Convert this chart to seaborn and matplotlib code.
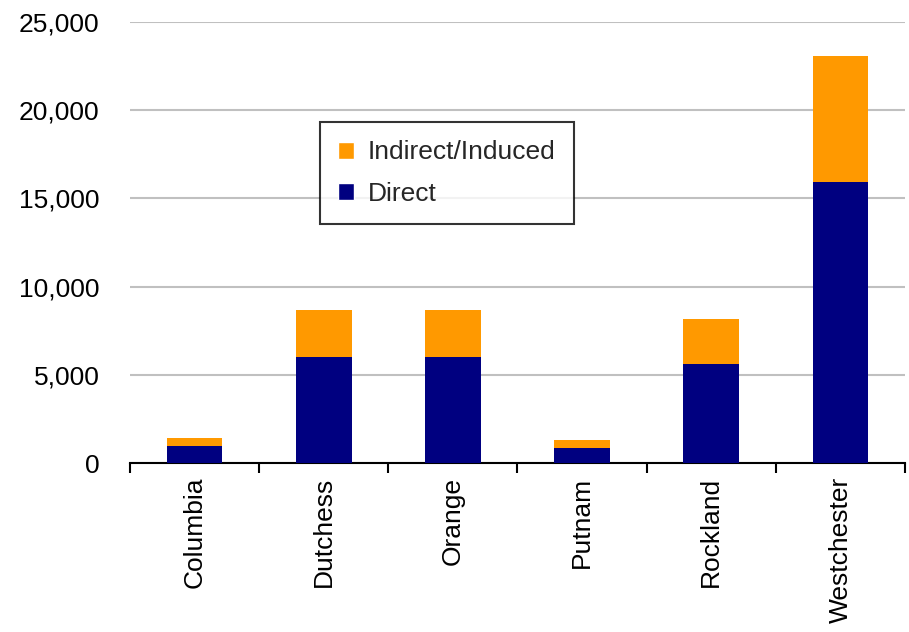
import matplotlib.pyplot as plt
import pandas as pd
import seaborn as sns
from matplotlib.patches import Patch
from matplotlib.ticker import FuncFormatter, FixedLocator

# Data
counties = ["Columbia", "Dutchess", "Orange", "Putnam", "Rockland", "Westchester"]
direct = [960, 6000, 6000, 850, 5600, 15950]
indirect_induced = [460, 2670, 2670, 450, 2550, 7120]

DIRECT_COLOR = "#000080"
INDIRECT_COLOR = "#FF9900"

sns.set_theme(style="white")
plt.rcParams["font.family"] = ["Liberation Sans", "DejaVu Sans"]

df = pd.DataFrame(
    {"county": counties, "direct": direct, "indirect": indirect_induced}
)
df["total"] = df["direct"] + df["indirect"]

fig = plt.figure(figsize=(9.09, 6.32), dpi=100)
ax = fig.add_axes([0.143, 0.2674, 0.8526, 0.6976])

# Stacked bars: total first (orange), then direct (navy) over it
sns.barplot(data=df, x="county", y="total", color=INDIRECT_COLOR,
            saturation=1, width=0.43, linewidth=0, ax=ax, zorder=3)
sns.barplot(data=df, x="county", y="direct", color=DIRECT_COLOR,
            saturation=1, width=0.43, linewidth=0, ax=ax, zorder=3)

ax.set_xlim(-0.5, len(counties) - 0.5)
ax.set_ylim(0, 25000)
ax.set_yticks(range(0, 25001, 5000))
ax.yaxis.set_major_formatter(FuncFormatter(lambda v, p: f"{int(v):,}"))
ax.grid(axis="y", color="#c0c0c0", linewidth=1.5, zorder=0)
ax.set_xlabel("")
ax.set_ylabel("")

for side in ["top", "right", "left"]:
    ax.spines[side].set_visible(False)
ax.spines["bottom"].set_color("black")
ax.spines["bottom"].set_linewidth(1.5)

ax.tick_params(axis="y", length=0, pad=22, labelsize=19, labelcolor="black")
ax.tick_params(axis="x", which="major", length=0, pad=10, labelsize=19,
               labelrotation=90, labelcolor="black")
# category separators as outward ticks on the x axis
ax.xaxis.set_minor_locator(FixedLocator([i - 0.5 for i in range(len(counties) + 1)]))
ax.tick_params(axis="x", which="minor", length=7, width=1.5, color="black",
               direction="out", bottom=True)

handles = [
    Patch(facecolor=INDIRECT_COLOR, label="Indirect/Induced"),
    Patch(facecolor=DIRECT_COLOR, label="Direct"),
]
leg = fig.legend(handles=handles, loc="upper left",
                 bbox_to_anchor=(320 / 909, 1 - 122 / 632),
                 fontsize=19, frameon=True, fancybox=False,
                 handlelength=0.6, handleheight=0.6, handletextpad=0.5,
                 borderpad=0.7, labelspacing=0.65, borderaxespad=0)
leg.get_frame().set_edgecolor("black")
leg.get_frame().set_linewidth(1.5)

fig.savefig("out.png", dpi=100)
